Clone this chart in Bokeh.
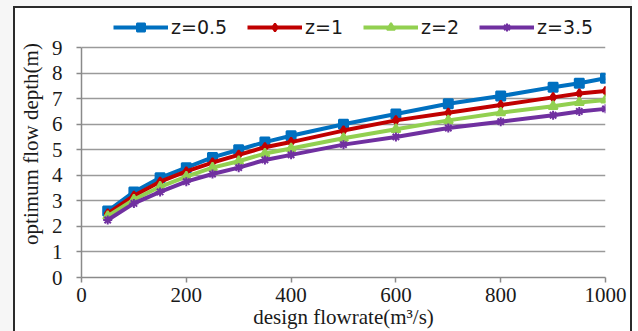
from bokeh.plotting import figure
from bokeh.models import Legend, LegendItem, FixedTicker, Range1d
from bokeh.embed import file_html
from bokeh.resources import INLINE

flowrate = [50, 100, 150, 200, 250, 300, 350, 400, 500, 600, 700, 800, 900, 950, 1000]
z05 = [2.6, 3.35, 3.9, 4.3, 4.7, 5.0, 5.3, 5.55, 6.0, 6.4, 6.8, 7.1, 7.45, 7.6, 7.8]
z1 = [2.5, 3.2, 3.75, 4.15, 4.5, 4.8, 5.1, 5.3, 5.75, 6.15, 6.45, 6.75, 7.05, 7.2, 7.3]
z2 = [2.4, 3.05, 3.55, 3.95, 4.3, 4.55, 4.85, 5.05, 5.45, 5.8, 6.15, 6.45, 6.7, 6.85, 6.95]
z35 = [2.25, 2.9, 3.35, 3.75, 4.05, 4.3, 4.6, 4.8, 5.2, 5.5, 5.85, 6.1, 6.35, 6.5, 6.6]
labels = ["z=0.5", "z=1", "z=2", "z=3.5"]
x_ticks = [0, 200, 400, 600, 800, 1000]
y_ticks = [0, 1, 2, 3, 4, 5, 6, 7, 8, 9]

# y range extends above 9 to leave room for the legend inside the frame
p = figure(width=632, height=331, output_backend="svg", toolbar_location=None,
           x_range=Range1d(0, 1000), y_range=Range1d(0, 10.45),
           min_border_left=81, min_border_right=27, min_border_top=10, min_border_bottom=54)
p.outline_line_color = None
p.background_fill_color = None
p.border_fill_color = None
p.styles = {
    "background-color": "#f6f6f6",
    "background-image": ("linear-gradient(#2b2b2b,#2b2b2b), linear-gradient(#2b2b2b,#2b2b2b), "
                         "linear-gradient(#2b2b2b,#2b2b2b), linear-gradient(#ffffff,#ffffff)"),
    "background-size": "2px 330px, 2px 330px, 619px 2px, 617px 330px",
    "background-position": "13px 6px, 630px 6px, 13px 6px, 15px 8px",
    "background-repeat": "no-repeat",
}

p.xgrid.grid_line_color = None
p.ygrid.grid_line_color = "#9a9a9a"
p.ygrid.grid_line_width = 1.5

for ax in (p.xaxis[0], p.yaxis[0]):
    ax.axis_line_color = "#8a8a8a"
    ax.axis_line_width = 1.5
    ax.major_tick_line_color = "#8a8a8a"
    ax.major_tick_line_width = 1.5
    ax.major_tick_out = 5
    ax.major_tick_in = 0
    ax.minor_tick_line_color = None
    ax.major_label_text_font = "Liberation Serif"
    ax.major_label_text_font_size = "21px"
    ax.major_label_text_color = "#1a1a1a"
    ax.axis_label_text_font = "Liberation Serif"
    ax.axis_label_text_font_size = "21px"
    ax.axis_label_text_font_style = "normal"
    ax.axis_label_text_color = "#1a1a1a"

p.xaxis.ticker = FixedTicker(ticks=x_ticks)
p.yaxis.ticker = FixedTicker(ticks=y_ticks)
p.yaxis.bounds = (0, 9)
p.xaxis.major_label_standoff = 5
p.yaxis.major_label_standoff = 14
p.xaxis.axis_label = "design flowrate(m³/s)"
p.yaxis.axis_label = "optimum flow depth(m)"
p.xaxis.axis_label_standoff = 0
p.yaxis.axis_label_standoff = 6

colors = ["#0070C0", "#C00000", "#92D050", "#7030A0"]
markers = ["square", "diamond", "triangle", "asterisk"]
series = [z05, z1, z2, z35]
items = []
for lab, ys, c, m in zip(labels, series, colors, markers):
    l = p.line(flowrate, ys, line_color=c, line_width=4)
    s = p.scatter(flowrate, ys, marker=m, size=9, fill_color=c, line_color=c, line_width=2)
    items.append(LegendItem(label=lab, renderers=[l, s]))

legend = Legend(items=items, orientation="horizontal", location=(32, 239),
                glyph_width=55, glyph_height=20, label_standoff=3, spacing=20,
                padding=0, margin=0, border_line_color=None, background_fill_alpha=0,
                label_text_font="DejaVu Sans", label_text_font_size="19px",
                label_text_color="#1a1a1a")
p.add_layout(legend, "center")

open("out.html", "w").write(file_html(p, INLINE))
